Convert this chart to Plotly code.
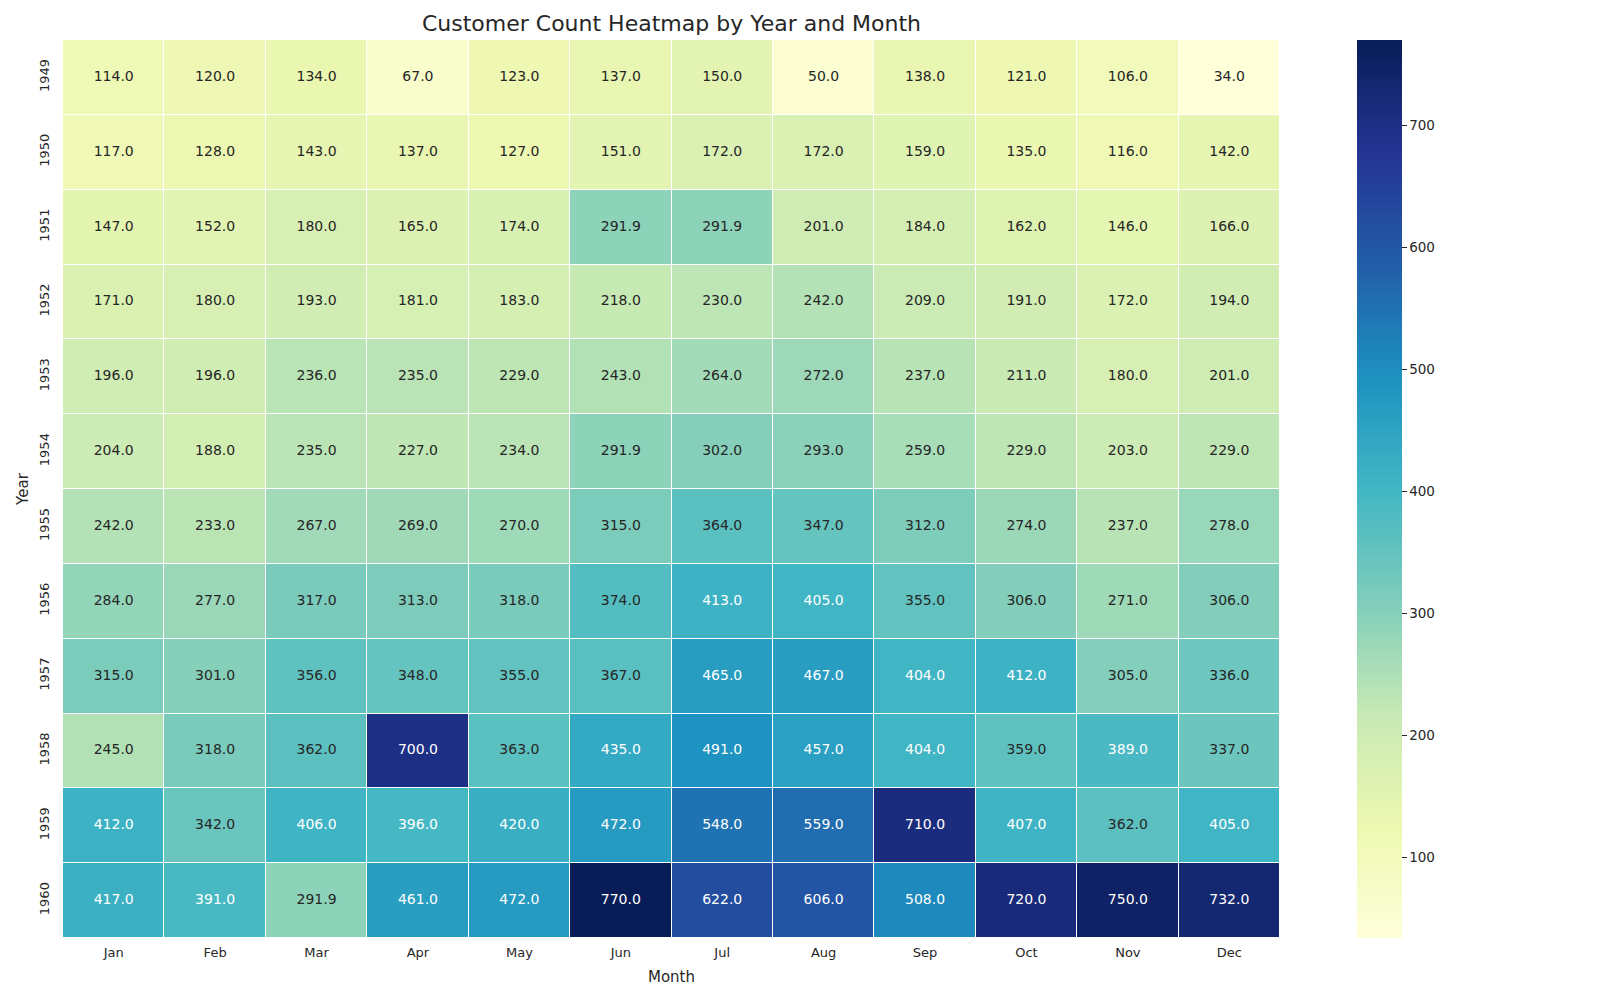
import plotly.graph_objects as go

months = ["Jan", "Feb", "Mar", "Apr", "May", "Jun", "Jul", "Aug", "Sep", "Oct", "Nov", "Dec"]
years = ["1949", "1950", "1951", "1952", "1953", "1954", "1955", "1956", "1957", "1958", "1959", "1960"]

counts_1949 = [114, 120, 134, 67, 123, 137, 150, 50, 138, 121, 106, 34]
counts_1950 = [117, 128, 143, 137, 127, 151, 172, 172, 159, 135, 116, 142]
counts_1951 = [147, 152, 180, 165, 174, 291.9, 291.9, 201, 184, 162, 146, 166]
counts_1952 = [171, 180, 193, 181, 183, 218, 230, 242, 209, 191, 172, 194]
counts_1953 = [196, 196, 236, 235, 229, 243, 264, 272, 237, 211, 180, 201]
counts_1954 = [204, 188, 235, 227, 234, 291.9, 302, 293, 259, 229, 203, 229]
counts_1955 = [242, 233, 267, 269, 270, 315, 364, 347, 312, 274, 237, 278]
counts_1956 = [284, 277, 317, 313, 318, 374, 413, 405, 355, 306, 271, 306]
counts_1957 = [315, 301, 356, 348, 355, 367, 465, 467, 404, 412, 305, 336]
counts_1958 = [245, 318, 362, 700, 363, 435, 491, 457, 404, 359, 389, 337]
counts_1959 = [412, 342, 406, 396, 420, 472, 548, 559, 710, 407, 362, 405]
counts_1960 = [417, 391, 291.9, 461, 472, 770, 622, 606, 508, 720, 750, 732]

z = [counts_1949, counts_1950, counts_1951, counts_1952, counts_1953, counts_1954,
     counts_1955, counts_1956, counts_1957, counts_1958, counts_1959, counts_1960]

colorbar_ticks = [100, 200, 300, 400, 500, 600, 700]

ylgnbu = ["#ffffd9", "#edf8b1", "#c7e9b4", "#7fcdbb", "#41b6c4",
          "#1d91c0", "#225ea8", "#253494", "#081d58"]
colorscale = [[i / (len(ylgnbu) - 1), c] for i, c in enumerate(ylgnbu)]

zmin = min(min(r) for r in z)
zmax = max(max(r) for r in z)


def hex_rgb(h):
    h = h.lstrip("#")
    return [int(h[i:i + 2], 16) for i in (0, 2, 4)]


def cmap(v):
    t = (v - zmin) / (zmax - zmin)
    pos = t * (len(ylgnbu) - 1)
    i = min(int(pos), len(ylgnbu) - 2)
    f = pos - i
    a, b = hex_rgb(ylgnbu[i]), hex_rgb(ylgnbu[i + 1])
    return [a[k] + (b[k] - a[k]) * f for k in range(3)]


def lum(rgb):
    out = []
    for c in rgb:
        c = c / 255
        out.append(c / 12.92 if c <= 0.03928 else ((c + 0.055) / 1.055) ** 2.4)
    return 0.2126 * out[0] + 0.7152 * out[1] + 0.0722 * out[2]


tx, ty, tt, tc = [], [], [], []
for yi, row in enumerate(z):
    for xi, v in enumerate(row):
        tx.append(months[xi])
        ty.append(years[yi])
        tt.append(f"{v:.1f}")
        tc.append("#262626" if lum(cmap(v)) > 0.408 else "#ffffff")

font_family = "DejaVu Sans"
dark = "#262626"

# page offset of 8px (default body margin) compensated in figure coordinates
W, H = 1584, 984
L, R, T, B = 55, 1272, 32, 930
CBX = 1349

fig = go.Figure()
fig.add_trace(go.Heatmap(
    z=z, x=months, y=years,
    colorscale=colorscale, zmin=zmin, zmax=zmax,
    xgap=1, ygap=1,
    hoverinfo="skip",
    colorbar=dict(
        x=(CBX - L) / (R - L), xanchor="left", xpad=0,
        y=0.5, yanchor="middle", len=1.0, lenmode="fraction", ypad=0,
        thickness=45, thicknessmode="pixels",
        outlinewidth=0,
        tickvals=colorbar_ticks,
        ticks="outside", ticklen=5, tickwidth=1, tickcolor=dark,
        tickfont=dict(family=font_family, size=13.5, color=dark),
    ),
))
fig.add_trace(go.Scatter(
    x=tx, y=ty, text=tt, mode="text",
    textfont=dict(family=font_family, size=14, color=tc),
    hoverinfo="skip", showlegend=False, cliponaxis=False,
))

fig.update_layout(
    template="none",
    width=W, height=H,
    margin=dict(l=L, r=W - R, t=T, b=H - B, pad=0, autoexpand=False),
    paper_bgcolor="white", plot_bgcolor="white",
    font=dict(family=font_family, color=dark),
    title=dict(text="Customer Count Heatmap by Year and Month",
               x=(L + R) / 2 / W, xanchor="center",
               y=1 - 15 / H, yanchor="middle",
               font=dict(family=font_family, size=22, color=dark)),
    showlegend=False,
)
fig.update_xaxes(
    type="category", categoryorder="array", categoryarray=months,
    range=[-0.5, len(months) - 0.5], autorange=False,
    automargin=False,
    showgrid=False, zeroline=False, showline=False,
    ticks="outside", ticklen=2, tickcolor="rgba(0,0,0,0)",
    tickfont=dict(family=font_family, size=13, color=dark),
    title=dict(text="Month", font=dict(family=font_family, size=15, color=dark), standoff=12),
)
fig.update_yaxes(
    type="category", categoryorder="array", categoryarray=years,
    range=[len(years) - 0.5, -0.5], autorange=False,
    automargin=False,
    showgrid=False, zeroline=False, showline=False,
    tickangle=-90,
    ticks="outside", ticklen=8, tickcolor="rgba(0,0,0,0)",
    tickfont=dict(family=font_family, size=13, color=dark),
    title=dict(text="Year", font=dict(family=font_family, size=15, color=dark), standoff=4),
)

fig.write_html("out.html")
